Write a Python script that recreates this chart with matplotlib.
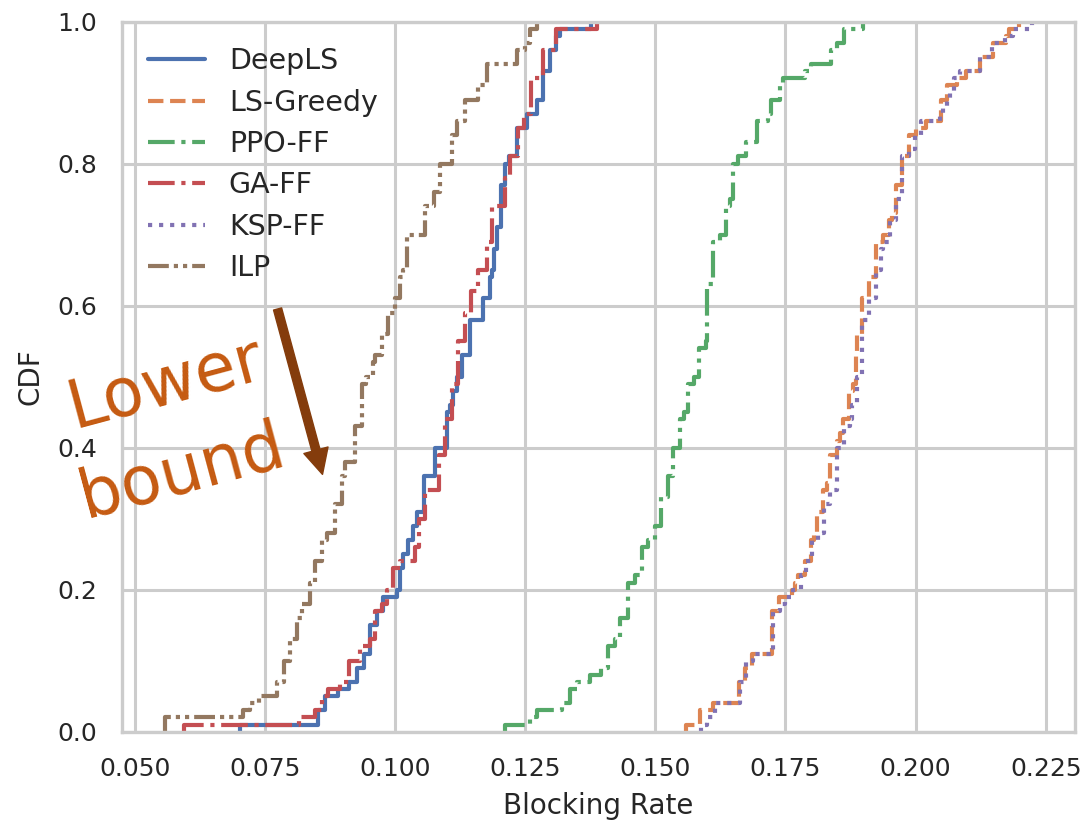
import numpy as np
import matplotlib
matplotlib.use("Agg")
import matplotlib.pyplot as plt
import seaborn as sns
from matplotlib.patches import FancyArrowPatch

# ---- data: step locations (blocking rate) and cumulative count (%) after each step ----
deepls_x = [0.0703, 0.0853, 0.0866, 0.0891, 0.0911, 0.0927, 0.0940, 0.0953, 0.0965, 0.0978,
            0.1004, 0.1010, 0.1016, 0.1025, 0.1035, 0.1042, 0.1055, 0.1077, 0.1100, 0.1106,
            0.1112, 0.1119, 0.1128, 0.1144, 0.1170, 0.1183, 0.1187, 0.1190, 0.1196, 0.1204,
            0.1211, 0.1219, 0.1234, 0.1254, 0.1272, 0.1285, 0.1298, 0.1310, 0.1317, 0.1376]
deepls_c = [1, 3, 5, 6, 7, 9, 11, 15, 17, 19,
            20, 23, 25, 27, 29, 31, 36, 40, 45, 46,
            48, 50, 53, 58, 61, 64, 65, 68, 71, 77,
            80, 81, 85, 87, 89, 93, 96, 98, 99, 100]

lsgreedy_x = [0.1560, 0.1585, 0.1611, 0.1661, 0.1673, 0.1686, 0.1725, 0.1737, 0.1763, 0.1768,
              0.1774, 0.1787, 0.1800, 0.1805, 0.1810, 0.1823, 0.1830, 0.1836, 0.1849, 0.1855,
              0.1861, 0.1873, 0.1880, 0.1886, 0.1887, 0.1898, 0.1911, 0.1924, 0.1937, 0.1948,
              0.1955, 0.1962, 0.1973, 0.1987, 0.2000, 0.2020, 0.2049, 0.2060, 0.2080, 0.2097,
              0.2124, 0.2148, 0.2173, 0.2180, 0.2199]
lsgreedy_c = [1, 3, 4, 7, 9, 11, 17, 19, 20, 21,
              22, 24, 27, 28, 31, 34, 35, 39, 41, 42,
              44, 48, 49, 53, 56, 61, 64, 69, 70, 72,
              73, 77, 81, 84, 85, 86, 89, 91, 92, 93,
              95, 97, 98, 99, 100]

ppoff_x = [0.1211, 0.1260, 0.1272, 0.1320, 0.1336, 0.1350, 0.1374, 0.1395, 0.1410, 0.1422,
           0.1432, 0.1448, 0.1462, 0.1474, 0.1487, 0.1500, 0.1512, 0.1525, 0.1535, 0.1547,
           0.1555, 0.1563, 0.1575, 0.1584, 0.1597, 0.1600, 0.1611, 0.1624, 0.1636, 0.1643,
           0.1649, 0.1658, 0.1674, 0.1696, 0.1717, 0.1723, 0.1739, 0.1746, 0.1787, 0.1800,
           0.1838, 0.1849, 0.1862, 0.1899]
ppoff_c = [1, 2, 3, 4, 6, 7, 8, 9, 12, 13,
           16, 21, 22, 26, 27, 29, 33, 36, 40, 44,
           45, 49, 50, 54, 55, 63, 69, 70, 74, 75,
           80, 81, 83, 86, 87, 89, 91, 92, 93, 94,
           96, 97, 99, 100]

gaff_x = [0.0595, 0.0815, 0.0847, 0.0860, 0.0872, 0.0895, 0.0911, 0.0933, 0.0953, 0.0962,
          0.0975, 0.0984, 0.0997, 0.1010, 0.1039, 0.1047, 0.1058, 0.1085, 0.1096, 0.1109,
          0.1122, 0.1135, 0.1147, 0.1160, 0.1176, 0.1186, 0.1211, 0.1221, 0.1237, 0.1248,
          0.1261, 0.1285, 0.1310, 0.1388]
gaff_c = [1, 2, 3, 5, 6, 7, 10, 12, 13, 17,
          18, 20, 23, 24, 26, 30, 34, 39, 44, 49,
          55, 59, 62, 65, 69, 74, 78, 81, 85, 87,
          92, 96, 99, 100]

kspff_x = [0.1588, 0.1600, 0.1615, 0.1663, 0.1675, 0.1688, 0.1726, 0.1740, 0.1750, 0.1765,
           0.1780, 0.1790, 0.1802, 0.1812, 0.1825, 0.1836, 0.1849, 0.1862, 0.1875, 0.1878,
           0.1887, 0.1898, 0.1911, 0.1924, 0.1933, 0.1937, 0.1950, 0.1962, 0.1974, 0.1987,
           0.1999, 0.2010, 0.2047, 0.2052, 0.2060, 0.2067, 0.2073, 0.2085, 0.2124, 0.2146,
           0.2171, 0.2188, 0.2223]
kspff_c = [1, 2, 4, 7, 10, 11, 17, 18, 19, 20,
           22, 24, 27, 28, 32, 34, 40, 43, 44, 46,
           50, 58, 61, 65, 68, 69, 72, 75, 81, 82,
           84, 86, 87, 88, 89, 90, 92, 93, 95, 97,
           98, 99, 100]

ilp_x = [0.0559, 0.0709, 0.0722, 0.0738, 0.0774, 0.0786, 0.0799, 0.0811, 0.0822, 0.0837,
         0.0847, 0.0860, 0.0870, 0.0884, 0.0898, 0.0905, 0.0924, 0.0937, 0.0945, 0.0958,
         0.0962, 0.0975, 0.0987, 0.1001, 0.1010, 0.1015, 0.1023, 0.1058, 0.1075, 0.1087,
         0.1109, 0.1120, 0.1135, 0.1160, 0.1177, 0.1234, 0.1250, 0.1260, 0.1273]
ilp_c = [2, 3, 4, 5, 7, 10, 13, 16, 18, 21,
         24, 27, 28, 32, 36, 38, 43, 49, 50, 52,
         53, 56, 59, 61, 64, 65, 70, 74, 76, 80,
         84, 86, 89, 91, 94, 96, 97, 99, 100]

labels = ["DeepLS", "LS-Greedy", "PPO-FF", "GA-FF", "KSP-FF", "ILP"]
steps = [(deepls_x, deepls_c), (lsgreedy_x, lsgreedy_c), (ppoff_x, ppoff_c),
         (gaff_x, gaff_c), (kspff_x, kspff_c), (ilp_x, ilp_c)]


def samples(xs, cum):
    counts = np.diff(np.r_[0, cum])
    return np.repeat(np.asarray(xs), counts)


sns.set_theme(style="whitegrid")
plt.rcParams["font.family"] = ["DejaVu Sans"]
plt.rcParams["grid.color"] = "#cccccc"
plt.rcParams["grid.linewidth"] = 2.2
plt.rcParams["axes.edgecolor"] = "#cccccc"
plt.rcParams["axes.linewidth"] = 2.4

palette = sns.color_palette("deep")
styles = ["-", "--", "-.", "-.", ":", (0, (5, 1.2, 1, 1.2, 1, 1.2))]

fig = plt.figure(figsize=(10.88, 8.23), dpi=100)
ax = fig.add_axes([122 / 1088, 1 - 731.7 / 823, (1075 - 122) / 1088, (731.7 - 21.5) / 823])

for i, (lab, (xs, cs)) in enumerate(zip(labels, steps)):
    sns.ecdfplot(x=samples(xs, cs), ax=ax, label=lab, color=palette[i],
                 linestyle=styles[i], linewidth=3)

ax.set_ylim(0, 1)
ax.set_xlabel("Blocking Rate", fontsize=20, color="#262626", labelpad=8)
ax.set_ylabel("CDF", fontsize=20, color="#262626", labelpad=9)
ax.tick_params(axis="both", labelsize=18, length=0, pad=18, labelcolor="#262626")

leg = ax.legend(loc="upper left", frameon=False, fontsize=20.5, labelspacing=0.47,
                handletextpad=0.85)

# annotation
txt_kw = dict(fontsize=48, color="#C55A11", rotation=15, rotation_mode="anchor",
              ha="left", va="baseline", clip_on=False, family="DejaVu Sans")
ax.text(0.0385, 0.4277, "Lower", **txt_kw)
ax.text(0.04055, 0.3012, "bound", **txt_kw)
arrow = FancyArrowPatch((0.07746, 0.5952), (0.08609, 0.3623),
                        arrowstyle="simple,head_length=1.8,head_width=1.8,tail_width=0.6",
                        mutation_scale=10, color="#843C0C", shrinkA=0, shrinkB=0)
ax.add_patch(arrow)

fig.savefig("out.png", dpi=100)
